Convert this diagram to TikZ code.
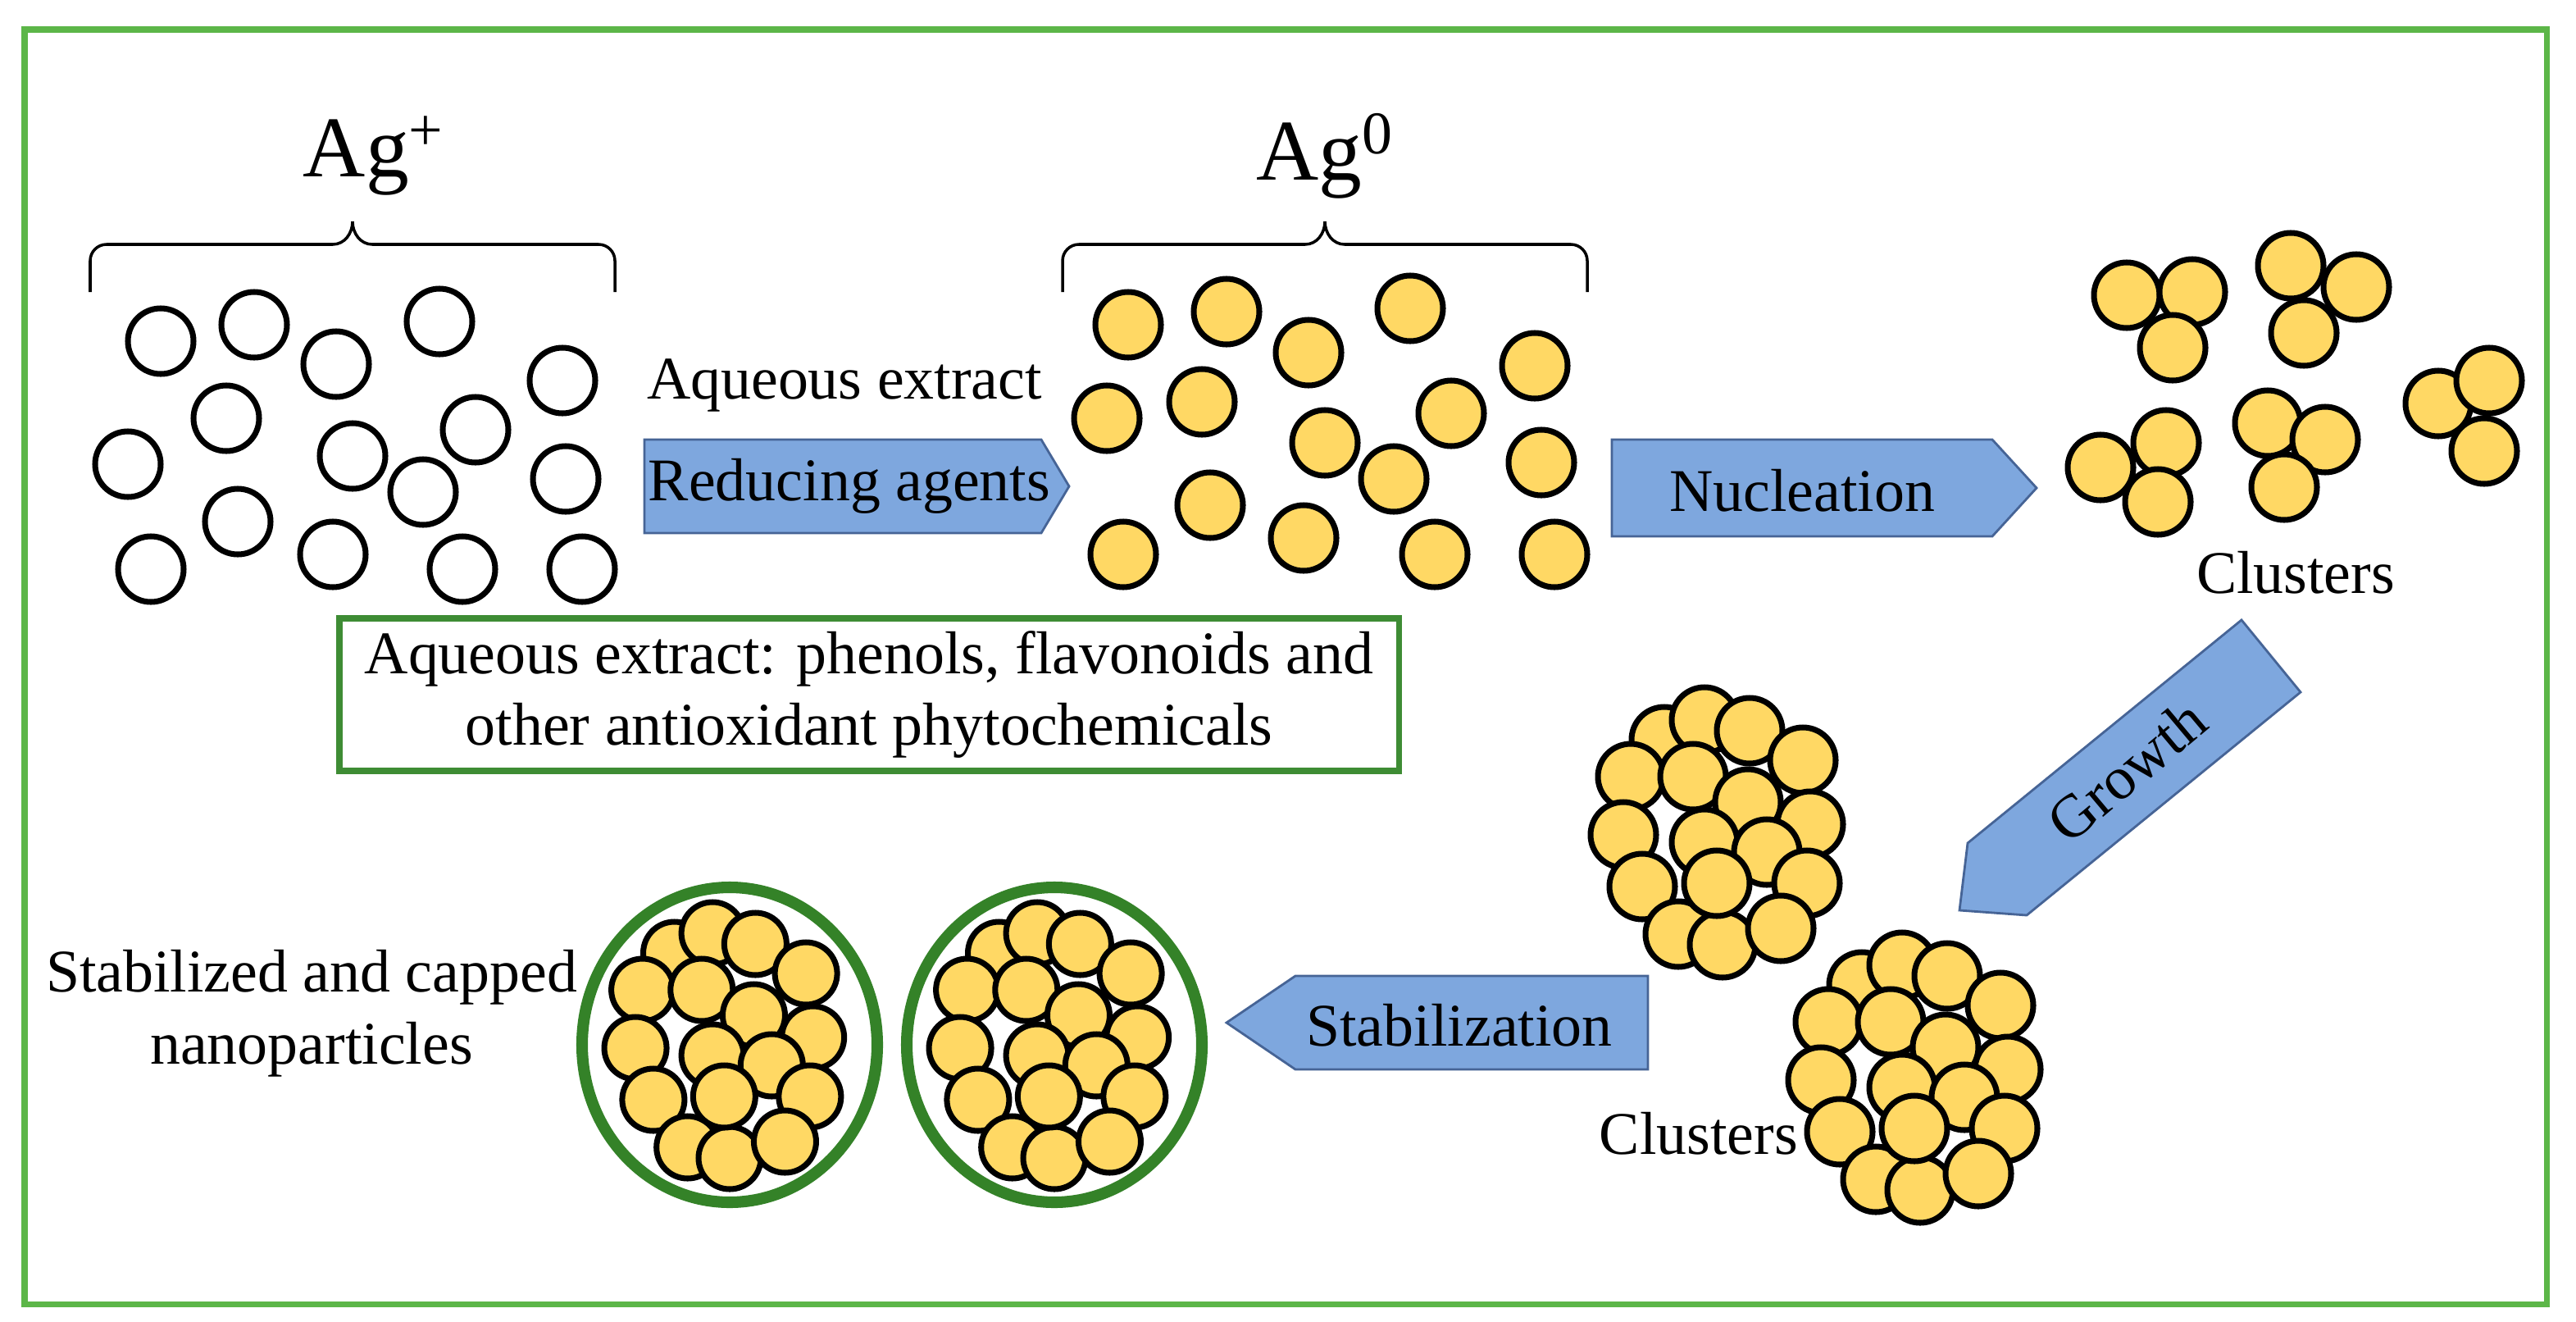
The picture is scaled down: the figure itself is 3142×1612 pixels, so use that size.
\documentclass[tikz,border=0pt]{standalone}
\usepackage{fontspec}
\setmainfont{Liberation Serif}
\begin{document}
\definecolor{frameg}{RGB}{92,182,72}
\definecolor{boxg}{RGB}{62,140,52}
\definecolor{capg}{RGB}{52,130,40}
\definecolor{ablue}{RGB}{126,167,222}
\definecolor{ablued}{RGB}{70,100,150}
\definecolor{ag}{RGB}{255,216,100}
\begin{tikzpicture}[x=0.01cm,y=-0.01cm,
  txt/.style={font=\fontsize{21}{25}\selectfont,inner sep=0pt},
  big/.style={font=\fontsize{30}{34}\selectfont,inner sep=0pt},
  ion/.style={draw=black,line width=2pt,fill=white},
  atom/.style={draw=black,line width=2pt,fill=ag},
  arr/.style={draw=ablued,line width=0.8pt,fill=ablue},
  brace/.style={line width=1pt}]
\useasboundingbox (0,0) rectangle (3142,1612);
\fill[white] (0,0) rectangle (3142,1612);
\draw[frameg,line width=2pt] (30,36) rectangle (3106,1590);

% braces
\node[big] (agp) at (456,190) {Ag\textsuperscript{+}};
\draw[brace] (110,356) -- (110,318) to[out=90,in=180] (130,298) -- (406,298) to[out=0,in=270] (430,270) to[out=270,in=180] (454,298) -- (730,298) to[out=0,in=90] (750,318) -- (750,356);
\node[big] (ag0) at (1616,190) {Ag\textsuperscript{0}};
\draw[brace] (1296,356) -- (1296,318) to[out=90,in=180] (1316,298) -- (1592,298) to[out=0,in=270] (1616,270) to[out=270,in=180] (1640,298) -- (1916,298) to[out=0,in=90] (1936,318) -- (1936,356);

% ions
\foreach \x/\y in {98/208,155/198,205/222,268/196,343/232,138/255,78/283,215/278,290/262,258/300,345/292,92/347,145/318,203/338,282/347,355/347}
  \draw[ion] (2*\x,2*\y) circle (40);
% atoms
\foreach \x/\y in {688/198,748/190,798/215,860/188,936/223,675/255,733/245,808/270,885/252,738/308,850/292,940/282,685/338,795/328,875/338,948/338}
  \draw[atom] (2*\x,2*\y) circle (40);

% reducing arrow
\node[txt] (aq) at (1030,470) {Aqueous extract};
\draw[arr] (786,536) -- (1270,536) -- (1304,593) -- (1270,650) -- (786,650) -- cycle;
\node[txt] (red) at (1036,593) {Reducing agents};
% nucleation arrow
\draw[arr] (1966,536) -- (2430,536) -- (2484,595) -- (2430,654) -- (1966,654) -- cycle;
\node[txt] (nuc) at (2198,598) {Nucleation};

% small clusters
\foreach \x/\y in {1297/180,1337/178,1325/212,1397/162,1437/175,1405/203,1281/285,1321/270,1316/306,1383/258,1418/268,1393/297,1487/246,1518/232,1515/275}
  \draw[atom] (2*\x,2*\y) circle (40);
\node[txt] (cl1) at (2800,698) {Clusters};

% green box
\draw[boxg,line width=2pt] (414,754) rectangle (1706,940);
\node[txt,align=center] (box) at (1060,847) {Aqueous extract: phenols, flavonoids and\\other antioxidant phytochemicals};

% growth arrow
\draw[arr] (2806,844) -- (2472,1116) -- (2390,1110) -- (2400,1028) -- (2734,756) -- cycle;
\node[txt,rotate=40] (gr) at (2594,940) {Growth};

% big clusters
\foreach \cx/\cy in {2101/1014,2342/1313}{
  \foreach \dx/\dy in {-71/-112,-22/-136,33/-123,98/-87,-112/-67,-36/-67,31/-36,107/-9,-121/4,-22/13,54/25,103/63,-98/67,-54/125,0/138,71/118,-7/63}
    \draw[atom] (\cx+\dx,\cy+\dy) circle (40);
}
\node[txt] (cl2) at (2072,1382) {Clusters};

% stabilization arrow
\draw[arr] (1580,1190) -- (2010,1190) -- (2010,1304) -- (1580,1304) -- (1496,1247) -- cycle;
\node[txt] (stab) at (1780,1250) {Stabilization};

% capped
\foreach \cx in {890,1286}{
  \foreach \dx/\dy in {-71/-112,-22/-136,33/-123,98/-87,-112/-67,-36/-67,31/-36,107/-9,-121/4,-22/13,54/25,103/63,-98/67,-54/125,0/138,71/118,-7/63}
    \draw[atom] (\cx+0.95*\dx,1274+\dy) circle (38);
  \draw[capg,line width=4pt] (\cx,1274) ellipse (180 and 192);
}
\node[txt,align=center] (stl) at (380,1236) {Stabilized and capped\\nanoparticles};
\end{tikzpicture}
\end{document}
